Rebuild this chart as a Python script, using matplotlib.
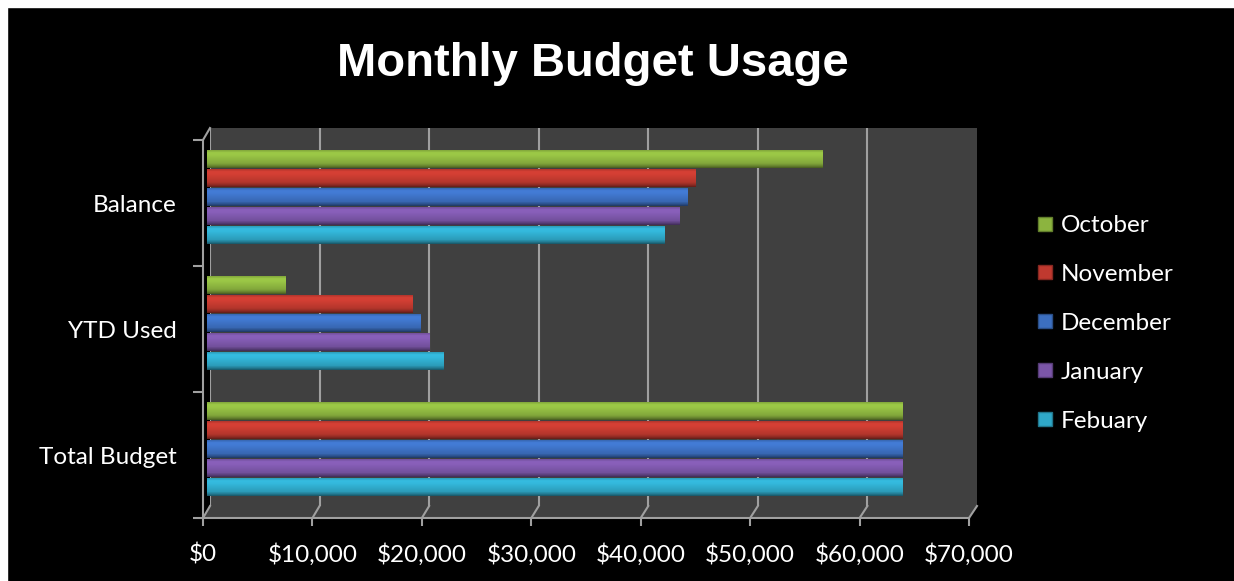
import numpy as np
import matplotlib.pyplot as plt
from matplotlib.lines import Line2D
from matplotlib.patches import Polygon, Rectangle
from matplotlib.colors import to_rgb
from matplotlib.transforms import IdentityTransform

# data
categories = ['Total Budget', 'YTD Used', 'Balance']
months = ['October', 'November', 'December', 'January', 'Febuary']
total_budget = [63600, 63600, 63600, 63600, 63600]
ytd_used = [7300, 18900, 19600, 20400, 21700]
balance = [56300, 44700, 44000, 43200, 41900]
month_colors = ['#8cb43f', '#c0392f', '#3c6fc0', '#7b56a8', '#2fa8c8']
xticks = [0, 10000, 20000, 30000, 40000, 50000, 60000, 70000]

W, H = 1234, 581
GRID = '#a0a0a0'
WALL = '#404040'
FONT = 'Lato'


def rect(l, t, r, b):
    # pixel box (top-left origin) -> figure fraction
    return [l / W, 1 - b / H, (r - l) / W, (b - t) / H]


fig = plt.figure(figsize=(W / 100, H / 100), dpi=100, facecolor='black')

# white strips at top and left edge
fig.add_artist(Rectangle((0, 1 - 7 / H), 1, 7 / H, color='white', transform=fig.transFigure, zorder=10))
fig.add_artist(Rectangle((0, 0), 7 / W, 1, color='white', transform=fig.transFigure, zorder=10))

# back wall, bar plane, front frame (fake 3d depth)
back = fig.add_axes(rect(210, 128, 977, 506), zorder=0)
ax = fig.add_axes(rect(206.5, 134, 973, 512), zorder=2)
front = fig.add_axes(rect(203, 140, 969, 518), zorder=3)

for a in (back, ax, front):
    a.set_xlim(0, 70000)
    a.set_ylim(0, 3)

back.set_facecolor(WALL)
back.set_xticks([])
back.set_yticks([])
for s in back.spines.values():
    s.set_visible(False)
for v in xticks[:-1]:
    back.axvline(v, color=GRID, lw=1.5)

# floor and left wall edges
floor_pts = [front.transData.transform((0, 0)), front.transData.transform((70000, 0)),
             back.transData.transform((70000, 0)), back.transData.transform((0, 0))]
fig.add_artist(Polygon(floor_pts, closed=True, facecolor=WALL, edgecolor='none',
                       transform=IdentityTransform(), zorder=1))
for v in xticks:
    p0 = front.transData.transform((v, 0))
    p1 = back.transData.transform((v, 0))
    fig.add_artist(Line2D([p0[0], p1[0]], [p0[1], p1[1]], color=GRID, lw=1.5,
                          transform=IdentityTransform(), zorder=1.5))
p0 = front.transData.transform((0, 3))
p1 = back.transData.transform((0, 3))
fig.add_artist(Line2D([p0[0], p1[0]], [p0[1], p1[1]], color=GRID, lw=1.5,
                      transform=IdentityTransform(), zorder=1.5))

# bars, shaded in thin stripes to look like cylinders
ax.set_facecolor('none')
ax.axis('off')
values = [total_budget, ytd_used, balance]
n = 20
pos = np.linspace(0, 1, n)  # 0 = top edge, 1 = bottom edge
shade = np.interp(pos, [0, 0.12, 0.3, 0.55, 0.8, 0.92, 1.0], [0.95, 1.12, 1.1, 1.0, 0.9, 0.72, 0.55])
bar_h = 0.145
pitch = 0.151
for mi, month in enumerate(months):
    base = np.array(to_rgb(month_colors[mi]))
    vals = [values[ci][mi] for ci in range(3)]
    sh = bar_h / n
    for k, f in enumerate(shade):
        ys = [ci + 0.5 + (2 - mi) * pitch + bar_h / 2 - (k + 0.5) * sh for ci in range(3)]
        ax.barh(ys, vals, height=sh * 1.1, color=np.clip(base * f, 0, 1), linewidth=0)

# front frame with axis ticks and labels
front.set_facecolor('none')
for s in ('top', 'right'):
    front.spines[s].set_visible(False)
for s in ('left', 'bottom'):
    front.spines[s].set_color(GRID)
    front.spines[s].set_linewidth(1.5)
front.set_xticks(xticks)
front.set_xticklabels([f'${v:,}' for v in xticks], fontsize=17.5, family=FONT, color='white')
front.tick_params(axis='x', length=6, width=1.5, color=GRID, pad=12)
front.set_yticks([0, 1, 2, 3])
front.set_yticklabels([])
front.tick_params(axis='y', which='major', length=7, width=1.5, color=GRID)
front.set_yticks([0.5, 1.5, 2.5], minor=True)
front.set_yticklabels(categories, minor=True, fontsize=17.5, family=FONT, color='white')
front.tick_params(axis='y', which='minor', length=0, pad=19)

fig.text(593 / W, 1 - 76 / H, 'Monthly Budget Usage', ha='center', va='baseline',
         fontsize=34, fontweight='bold', family='Liberation Sans', color='white')

handles = [Line2D([], [], marker='s', linestyle='none', markersize=10,
                  markerfacecolor=c, markeredgecolor=np.clip(np.array(to_rgb(c)) * 0.7, 0, 1))
           for c in month_colors]
leg = fig.legend(handles, months, loc='upper left', bbox_to_anchor=(1035 / W, 1 - 215 / H),
                 frameon=False, borderpad=0, borderaxespad=0, handlelength=0.8,
                 handletextpad=0.25, labelspacing=1.15, prop={'family': FONT, 'size': 17.5})
for t in leg.get_texts():
    t.set_color('white')

fig.savefig('out.png', dpi=100, facecolor='black')
